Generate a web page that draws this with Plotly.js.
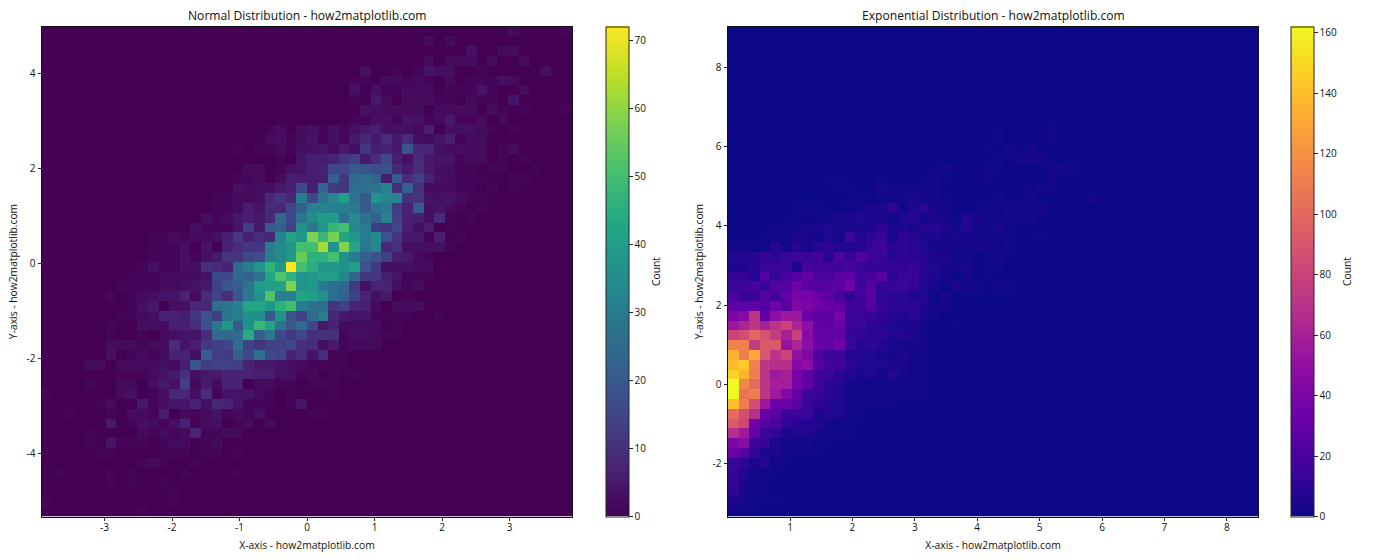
<!DOCTYPE html>
<html>
<head>
<meta charset="utf-8">
<script src="https://cdn.plot.ly/plotly-3.0.1.min.js"></script>
<style>html,body{margin:0;padding:0;background:#fff}#c{width:1400px;height:560px}</style>
</head>
<body>
<div id="c"></div>
<script>
const chartTitles = ["Normal Distribution - how2matplotlib.com", "Exponential Distribution - how2matplotlib.com"];
const xLabel = "X-axis - how2matplotlib.com";
const yLabel = "Y-axis - how2matplotlib.com";
const barLabel = "Count";
const binCount = 50;
const normalXRange = [-3.926, 3.926];
const normalYRange = [-5.33, 4.99];
const expXRange = [0.006, 8.5];
const expYRange = [-3.33, 9.03];

// Rows run top to bottom; each lists counts starting at the column in the offset array.
const normalOffset = [44,36,40,36,30,29,29,29,30,29,21,21,18,22,19,18,18,16,16,15,14,10,10,10,9,8,7,6,8,7,6,6,6,6,4,7,4,0,5,2,6,4,4,5,9,1,6,12,0,9];
const normalRows = [
[2,0,0,0,0,1],
[2,0,2],
[3,0,0,2,2],
[2,0,2,2,2,0,2,0,0,2],
[3,0,0,1,0,1,4,3,3,0,0,1,0,0,0,0,0,3],
[1,1,0,2,2,1,2,1,0,2,0,1,1,1,3,2],
[3,0,3,1,1,2,2,2,0,1,1,1,4,1,0,0,2],
[1,0,5,2,0,2,2,2,1,1,0,2,1,1,0,4],
[3,3,2,2,2,2,0,2,2,2,2,0,2,1,0,1,0,0,0,1],
[1,1,3,3,1,4,3,1,2,5,1,1,2,0,2],
[1,2,0,2,3,1,3,1,3,5,6,3,3,3,2,6,0,3,3,3,2,1,0,1],
[2,3,1,2,4,1,3,1,5,8,5,9,5,9,3,2,4,6,1,2,2],
[1,0,1,1,2,1,3,3,4,2,5,3,11,6,7,5,18,8,8,3,2,3,2,2,0,1,2],
[1,0,4,6,6,7,11,13,5,9,16,6,3,9,5,4,4,1,2,2,0,1,0,1],
[2,2,0,1,3,4,6,7,15,15,20,19,17,18,8,5,9,5,3,3,1,1,0,1,1,0,0,1],
[1,1,2,0,2,6,6,6,6,22,12,25,26,23,6,21,9,13,7,3,2,1,1,1,0,0,1,1],
[3,2,3,3,5,6,16,6,24,12,11,26,26,27,32,9,22,10,2,2,2,1,1,0,1,0,1],
[1,1,2,2,3,8,11,8,30,16,27,33,40,27,20,37,33,33,10,11,4,3,4,2,1,1],
[1,1,2,6,4,9,8,15,22,32,32,31,31,29,20,27,29,13,7,20,3,4,2,1,0,1],
[3,1,2,5,6,5,8,24,15,28,35,40,39,26,34,26,22,32,14,7,6,3,9,1,0,1],
[3,1,1,1,4,13,5,20,22,14,36,29,37,47,50,33,30,13,11,15,6,3,6,0,1],
[1,1,2,1,2,2,3,6,12,6,9,8,32,42,38,58,48,57,42,38,30,34,18,11,5,5,1,6,0,1],
[1,1,1,3,0,4,0,7,9,11,11,30,34,38,50,50,62,36,58,42,28,33,8,10,3,3,3,3,1],
[1,1,1,3,1,3,5,11,11,16,17,31,34,38,55,46,46,50,36,30,22,18,14,6,5,2,1,0],
[1,3,1,1,3,3,10,9,7,25,30,37,46,38,72,50,45,38,38,36,40,18,12,3,3,3,2,2],
[1,1,1,2,2,2,2,4,16,16,24,22,27,42,52,46,37,38,40,40,33,24,11,11,6,4,1,1,1],
[1,1,1,1,2,2,3,4,5,14,19,21,28,39,40,41,58,37,38,30,26,24,12,3,7,7,3,1,2],
[1,0,1,2,3,4,4,7,2,9,14,10,19,29,36,52,31,31,42,40,36,26,22,14,7,3,5,0,1],
[1,3,5,0,3,3,8,8,26,28,31,42,42,38,46,50,30,26,26,11,14,7,6,2,0,2,2,2],
[1,1,2,3,7,7,6,11,18,13,28,30,36,35,20,37,18,14,25,30,8,5,4,4,1,1,1,1,0,0,1],
[1,0,0,3,3,2,6,6,9,18,28,38,20,36,48,42,28,20,25,15,5,7,2,2,2,2,0,1],
[1,0,0,1,0,2,3,4,4,9,25,25,25,44,22,29,16,12,15,10,10,10,1,3,3,2,1,1],
[2,2,2,1,2,2,9,4,6,12,13,15,26,14,11,14,14,16,10,9,3,5,1,2,2,2],
[3,0,1,2,1,2,7,7,3,21,13,12,22,15,26,16,15,7,9,4,9,1,1],
[2,2,0,2,2,2,2,3,2,6,19,13,14,14,13,7,5,5,4,3,2,1,1,1,1],
[1,1,1,2,4,5,10,3,5,5,7,7,7,6,6,3,3,1,2,0,1,0,1],
[1,0,0,2,2,0,3,5,3,13,2,5,2,7,7,0,2,2,1,1,0,1,1,1],
[1,0,0,0,0,0,0,2,3,0,1,3,8,8,3,9,1,4,4,4,2,1,0,1,0,0,0,1],
[1,2,0,0,5,1,3,4,4,7,3,8,7,4,1,1,1,0,1,4],
[1,0,0,0,1,0,2,2,1,6,0,2,1,2,4,1,2,1,3,0,0,0,0,1,1],
[5,0,1,3,2,1,3,7,1,2,3,0,1,2,0,2],
[1,0,0,0,0,2,1,2,1,2,7,1,1,2,2],
[1,0,4,1,1,1,0,1,2,2,0,1,2],
[1,1,0,0,0,0,1,1,1,0,1,1,0,1],
[1,2,1,0,0,1],
[1,0,0,0,0,1,0,1,0,0,0,0,1,0,0,0,0,1],
[1,0,1,0,0,1],
[1],
[1,0,0,0,0,0,0,0,0,0,0,0,1],
[1]
];

const expOffset = [0,0,0,0,0,0,0,0,0,0,25,25,24,25,20,9,10,11,6,5,4,3,0,0,0,0,0,0,0,0,0,0,0,0,0,0,0,0,0,0,0,0,0,0,0,0,0,0,0,0];
const expRows = [
[],[],[],[],[],[],[],[],[],[],
[1,0,0,0,0,2],
[1,0,0,0,0,2],
[1,0,3,0,3],
[1,0,3,3,3],
[3,0,0,0,2,1,0,0,0,0,2,3,2],
[1,1,0,0,0,1,0,0,0,1,3,1,0,0,0,2,0,0,0,0,0,3],
[1,1,0,0,4,1,1,1,3,3,0,0,0,0,0,0,0,0,2,3,2],
[1,1,1,2,1,3,5,2,3,1,0,0,0,0,2,0,0,2,0,0,0,0,0,3],
[1,1,1,0,1,1,3,5,4,9,2,5,9,3,3,0,0,1,1,2,3,1,2,3],
[1,1,1,1,2,4,4,7,5,5,2,6,8,2,5,3,1,7,4,1,2,3,1,2],
[1,1,2,5,5,6,3,5,4,6,11,5,5,4,8,7,6,2,7,4,1,4,1],
[1,1,1,4,4,2,6,3,14,6,10,13,4,11,8,4,5,3,5,3,3,1,1,1,0,0,2],
[3,2,2,2,8,2,8,4,8,10,7,7,7,12,15,8,10,9,7,2,3,3,3,3,3,1,3],
[6,6,8,12,10,13,14,14,17,8,21,12,23,16,13,7,11,9,8,4,4,2,2,0,2,3],
[5,5,8,13,14,14,5,18,17,17,15,20,13,12,12,12,12,13,8,6,3,3,4,0,1,1],
[12,12,7,23,13,18,23,30,20,20,25,28,15,17,26,9,13,13,7,5,3,0,3,0,1],
[14,16,19,13,24,24,35,27,24,25,27,36,15,25,12,13,13,12,6,3,0,5,2,3,0,2,2],
[20,12,14,24,17,28,38,38,33,27,20,10,16,24,10,10,10,6,6,0,4],
[28,28,28,24,35,25,42,40,35,32,28,16,15,24,13,11,10,10,5,2,3],
[40,45,72,28,48,55,55,33,26,26,38,14,15,12,11,8,6,8,5,1],
[55,62,72,60,72,80,62,48,28,28,32,14,14,9,8,6,3,5,3,0,0,2],
[80,85,98,88,75,60,78,45,30,30,28,12,12,9,10,6,7,5,2],
[112,112,75,92,92,52,62,48,32,30,36,14,8,10,7,4,3,3,2],
[135,110,130,90,70,80,50,42,22,14,16,7,6,6,4,3,5,3,2],
[138,145,112,72,68,68,45,48,25,18,16,9,6,6,6,4,4,3,2],
[148,135,110,70,55,60,38,28,16,14,9,7,3,7,2,8,3,2,2],
[162,115,100,72,58,58,38,28,16,9,8,2,2,2,2,2,2,2,1],
[162,105,110,72,55,42,30,15,12,9,6,2,2,1,1,1,1,1,1],
[140,110,85,55,32,32,26,14,11,8,5,2,1,1,1,1],
[100,85,68,32,26,13,14,14,4,7,5,1,1],
[92,82,35,25,20,12,8,7,6,3,2,1,1],
[68,55,30,14,12,5,6,6,3,2,1,1],
[40,45,14,12,4,3,2,2,1,1],
[32,25,12,5,4,3,1,1,1],
[14,10,4,8,1,1],
[12,7,2,1,1],
[12,4,2,1],
[10,3,1,1],
[4,3,1,1,1],
[2,1,1]
];

const normalMax = 72, expMax = 162;
const normalBarTicks = [0,10,20,30,40,50,60,70];
const expBarTicks = [0,20,40,60,80,100,120,140,160];
const normalXTicks = [-3,-2,-1,0,1,2,3];
const normalYTicks = [-4,-2,0,2,4];
const expXTicks = [1,2,3,4,5,6,7,8];
const expYTicks = [-2,0,2,4,6,8];

const viridis = [[0,'#440154'],[0.1,'#482475'],[0.2,'#414487'],[0.3,'#355f8d'],[0.4,'#2a788e'],[0.5,'#21918c'],[0.6,'#22a884'],[0.7,'#44bf70'],[0.8,'#7ad151'],[0.9,'#bddf26'],[1,'#fde725']];
const plasma = [[0,'#0d0887'],[0.1,'#41049d'],[0.2,'#6a00a8'],[0.3,'#8f0da4'],[0.4,'#b12a90'],[0.5,'#cc4678'],[0.6,'#e16462'],[0.7,'#f1844b'],[0.8,'#fca636'],[0.9,'#fcce25'],[1,'#f0f921']];

const W = 1400, H = 560;
const fontFam = '"Open Sans", "Noto Sans", sans-serif';
const ink = '#111';
function edges(r){const a=[];for(let i=0;i<=binCount;i++)a.push(r[0]+(r[1]-r[0])*i/binCount);return a;}
function expand(rows,offs){return rows.map((r,i)=>{const a=new Array(binCount).fill(0);r.forEach((v,j)=>{a[offs[i]+j]=v;});return a;}).reverse();}

function bar(px,ticks){return {
  x:px/W,xanchor:'left',xref:'paper',y:43.5/H,yanchor:'bottom',yref:'paper',
  thickness:23,thicknessmode:'pixels',len:490,lenmode:'pixels',xpad:0,ypad:0,
  outlinewidth:1,outlinecolor:'#222',
  tickmode:'array',tickvals:ticks,ticktext:ticks.map(String),ticks:'outside',ticklen:3.5,tickwidth:1,tickcolor:'#222',
  tickfont:{family:fontFam,size:10,color:ink}
};}

const traces = [
 {type:'heatmap',x:edges(normalXRange),y:edges(normalYRange),z:expand(normalRows,normalOffset),xaxis:'x',yaxis:'y',colorscale:viridis,zmin:0,zmax:normalMax,colorbar:bar(606,normalBarTicks)},
 {type:'heatmap',x:edges(expXRange),y:edges(expYRange),z:expand(expRows,expOffset),xaxis:'x2',yaxis:'y2',colorscale:plasma,zmin:0,zmax:expMax,colorbar:bar(1291,expBarTicks)}
];

function axis(range,ticks,label,dom,anchor,standoff,labelShift){return {
  range:range,domain:dom,anchor:anchor,tickmode:'array',tickvals:ticks,ticktext:ticks.map(v=>String(v)),
  showgrid:false,zeroline:false,showline:true,mirror:true,linecolor:'#111',linewidth:1,
  ticks:'outside',ticklen:3.5,tickwidth:1,tickcolor:'#222',tickfont:{family:fontFam,size:10,color:ink},
  ticklabelstandoff:labelShift,
  title:{text:label,font:{family:fontFam,size:10.3,color:ink},standoff:standoff}
};}
const yDom=[43.5/H,533.5/H];
function note(text,px,py,angle,size){return {text:text,xref:'paper',yref:'paper',x:px/W,y:1-py/H,xanchor:'center',yanchor:'middle',showarrow:false,textangle:angle,font:{family:fontFam,size:size,color:ink}};}
const layout = {
 width:W,height:H,margin:{l:0,r:0,t:0,b:0},paper_bgcolor:'#fff',plot_bgcolor:'#fff',showlegend:false,
 xaxis:axis(normalXRange,normalXTicks,xLabel,[42/W,572/W],'y',8,-2),
 yaxis:axis(normalYRange,normalYTicks,yLabel,yDom,'x',6,0),
 xaxis2:axis(expXRange,expXTicks,xLabel,[728/W,1258/W],'y2',8,-2),
 yaxis2:axis(expYRange,expYTicks,yLabel,yDom,'x2',6,0),
 annotations:[
  note(chartTitles[0],307,15.5,0,12.1),
  note(chartTitles[1],993,15.5,0,12.1),
  note(barLabel,656,272,-90,10.3),
  note(barLabel,1347,272,-90,10.3)
 ]
};
Plotly.newPlot('c',traces,layout,{displayModeBar:false,staticPlot:true});
</script>
</body>
</html>
